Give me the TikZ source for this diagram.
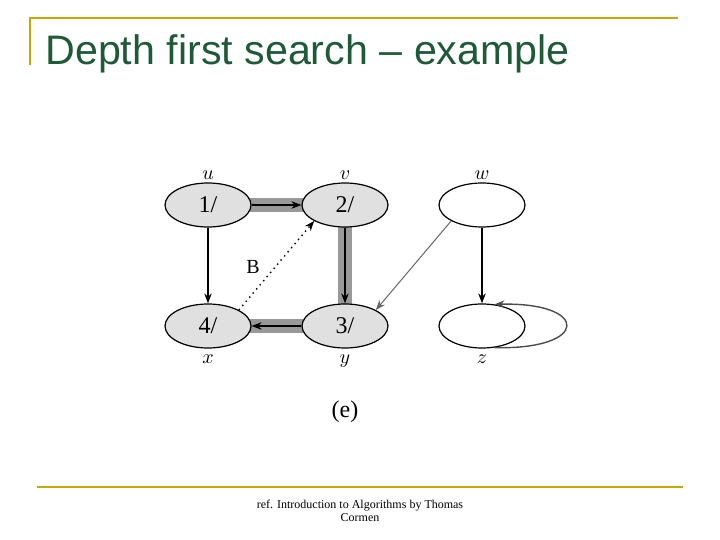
\documentclass[tikz,border=0pt]{standalone}
\usepackage{fontspec}
\setsansfont{Liberation Sans}
\setmainfont{Liberation Serif}
\usetikzlibrary{arrows.meta,shapes.geometric}
\definecolor{gold}{RGB}{200,168,0}
\definecolor{titlegreen}{RGB}{30,90,55}
\tikzset{
  vtx/.style={draw, ellipse, minimum width=43pt, minimum height=22pt, inner sep=0pt, line width=0.6pt, font=\fontsize{12}{12}\selectfont},
  seen/.style={vtx, fill=black!12},
  lbl/.style={font=\itshape\fontsize{10}{10}\selectfont},
  tree/.style={line width=7pt, black!40},
  edge/.style={-{Stealth[length=5pt]}, line width=0.7pt},
}
\begin{document}
\begin{tikzpicture}[x=0.5pt,y=-0.5pt]
  \useasboundingbox (0,0) rectangle (720,540);
  % frame lines
  \draw [gold, line width=1.2pt] (30,65) -- (30,18) -- (678,18);
  \draw [gold, line width=1.2pt] (37,487) -- (683,487);
  \node [anchor=base west, inner sep=0pt, text=titlegreen, font=\sffamily\fontsize{20.6}{20.6}\selectfont] (title) at (45,65) {Depth first search -- example};

  % tree bands
  \draw [tree] (208,205) -- (345,205) -- (345,326) -- (208,326);

  % vertices
  \node [seen] (u) at (208,205) {1/};
  \node [seen] (v) at (345,205) {2/};
  \node [vtx]  (w) at (482,205) {};
  \node [seen] (x) at (208,326) {4/};
  \node [seen] (y) at (345,326) {3/};
  \node [vtx]  (z) at (482,326) {};

  \foreach \n/\t in {u/u, v/v, w/w} {\node [lbl, anchor=south, inner sep=1pt] at (\n.north) {$\t$};}
  \foreach \n/\t in {x/x, y/y, z/z} {\node [lbl, anchor=north, inner sep=3pt] at (\n.south) {$\t$};}

  % edges
  \draw [edge] (u) -- (v);
  \draw [edge] (v) -- (y);
  \draw [edge] (y) -- (x);
  \draw [edge] (u) -- (x);
  \draw [edge] (w) -- (z);
  \draw [edge, black!60, line width=0.5pt] (w.south west) -- (y.north east);
  \draw [edge, dotted] (x.north east) -- (v.south west) node [pos=0.35, above left=-1pt, font=\fontsize{10}{10}\selectfont] {B};
  \draw [edge, black!70] (z.-60) .. controls (590,350) and (590,302) .. (z.60);

  \node [font=\fontsize{12}{12}\selectfont] (cap) at (345,412) {(e)};
  \node [align=center, font=\fontsize{6}{6.5}\selectfont] (ref) at (360,511) {ref. Introduction to Algorithms by Thomas\\Cormen};
\end{tikzpicture}
\end{document}
